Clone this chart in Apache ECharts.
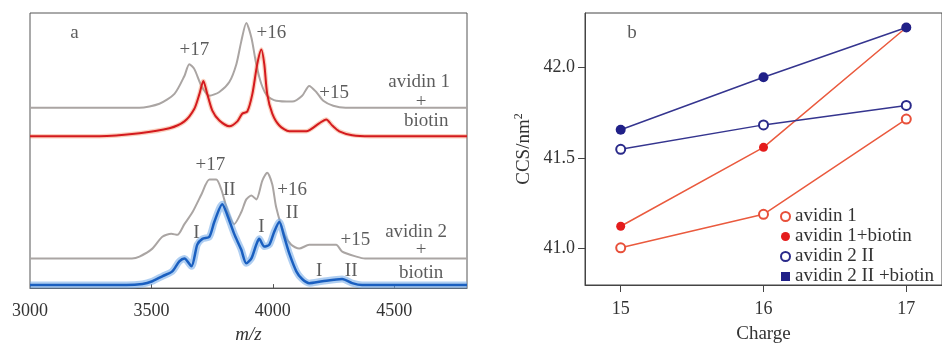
<!DOCTYPE html>
<html><head><meta charset="utf-8">
<script src="https://cdn.jsdelivr.net/npm/echarts@6/dist/echarts.min.js"></script>
<style>html,body{margin:0;padding:0;background:#fff}#c{width:942px;height:349px}</style>
</head><body><div id="c"></div>
<script>
// ---------- Panel a: mass spectra (m/z, relative intensity above own baseline) ----------
const mzTicks = [3000, 3500, 4000, 4500];
const specAvidin1 = [[3000,0],[3450,0],[3533,1.4],[3595,5.0],[3636,11.5],[3656,15.8],[3677,14.0],[3706,7.9],[3739,4.3],[3780,5.7],[3821,9.3],[3850,15.8],[3870,24.0],[3891,30.8],[3912,25.4],[3932,15.8],[3953,8.6],[3977,4.3],[4014,2.5],[4080,2.2],[4121,4.3],[4150,7.9],[4179,5.7],[4208,2.5],[4249,0.7],[4300,0],[4800,0]];
const specAvidin1Biotin = [[3000,0],[3286,0],[3451,1.1],[3574,2.9],[3636,5.4],[3677,10.0],[3698,15.4],[3714,20.1],[3730,15.4],[3751,9.3],[3780,5.7],[3821,3.6],[3854,5.4],[3874,8.2],[3895,9.0],[3916,15.4],[3936,26.2],[3953,31.5],[3965,26.2],[3977,15.4],[3998,8.2],[4027,3.9],[4068,1.8],[4138,1.8],[4191,4.7],[4220,6.1],[4245,3.9],[4274,1.8],[4327,0.4],[4400,0],[4800,0]];
const specAvidin2 = [[3000,0],[3420,0],[3451,0.7],[3504,3.6],[3545,7.9],[3582,9.0],[3607,8.6],[3636,12.5],[3669,16.8],[3706,23.3],[3739,28.7],[3767,28.7],[3788,25.1],[3813,17.6],[3841,12.5],[3870,16.8],[3891,21.5],[3912,22.9],[3932,21.5],[3957,28.3],[3977,31.2],[3998,26.9],[4014,18.6],[4047,9.0],[4076,5.0],[4109,3.6],[4150,5.0],[4220,5.0],[4261,5.0],[4286,2.5],[4344,0.7],[4380,0],[4800,0]];
const specAvidin2Biotin = [[3000,0],[3397,0],[3463,0.4],[3504,1.4],[3545,3.2],[3586,5.0],[3615,8.6],[3636,9.7],[3665,6.8],[3689,14.7],[3710,16.8],[3739,17.6],[3759,22.9],[3792,29.4],[3813,25.4],[3841,18.6],[3870,12.9],[3891,7.9],[3912,9.7],[3932,14.7],[3944,16.8],[3965,14.0],[3986,14.7],[4006,19.4],[4027,22.9],[4047,17.6],[4068,11.5],[4097,5.0],[4121,2.2],[4150,0.7],[4204,1.4],[4286,2.2],[4327,0.7],[4368,0],[4800,0]];
// annotation texts for panel a: [m/z, y, text]
const annotA = [[3183,92.8,'a'],[3677,86.4,'+17'],[3994,92.8,'+16'],[4253,71,'+15'],[4603,74.9,'avidin 1'],[4611,67.7,'+'],[4632,60.6,'biotin'],
  [3743,44.8,'+17'],[3821,35.8,'II'],[4080,35.5,'+16'],[4080,27.2,'II'],[3685,20.1,'I'],[3953,22.2,'I'],[4340,17.6,'+15'],
  [4590,20.4,'avidin 2'],[4611,14.0,'+'],[4611,5.4,'biotin'],[4191,6.1,'I'],[4323,6.1,'II']];

// ---------- Panel b: CCS vs charge ----------
const charges = [15, 16, 17];
const chargeTicks = [15, 16, 17];
const ccsTicks = [41.0, 41.5, 42.0];
const ccsAvidin1 = [41.005, 41.19, 41.715];
const ccsAvidin1Biotin = [41.124, 41.559, 42.22];
const ccsAvidin2II = [41.548, 41.683, 41.79];
const ccsAvidin2IIBiotin = [41.656, 41.946, 42.22];
const annotB = [[15.08, 42.19, 'b']];

const FONT = 'Liberation Serif';
const OFFSET = {a1: 65.6, a1b: 55.2, a2: 10.75, a2b: 1.1};
const shift = (arr, o) => arr.map(p => [p[0], p[1] + o]);
const pair = (xs, ys) => xs.map((x, i) => [x, ys[i]]);
const TICKRICH = {t: {fontFamily: FONT, fontSize: 18, color: '#333'}};

const chart = echarts.init(document.getElementById('c'), null, {renderer: 'canvas'});

function specLine(data, color, width, z) {
  return {type: 'line', xAxisIndex: 0, yAxisIndex: 0, data: data, symbol: 'none', smooth: 0.25,
    lineStyle: {color: color, width: width}, z: z, silent: true, animation: false};
}

const option = {
  animation: false,
  textStyle: {fontFamily: FONT},
  grid: [
    {left: 30, right: 475, top: 13, bottom: 57, show: true, borderColor: '#555', borderWidth: 1},
    {left: 585, right: -3, top: 13, bottom: 57, show: true, borderColor: '#444', borderWidth: 1}
  ],
  xAxis: [
    {type: 'value', gridIndex: 0, min: 3000, max: 4800, splitLine: {show: false},
      axisLine: {lineStyle: {color: '#555'}},
      axisTick: {inside: true, length: 4, customValues: mzTicks, lineStyle: {color: '#555'}},
      axisLabel: {customValues: mzTicks, margin: 14, fontFamily: FONT, fontSize: 18, color: '#333',
        formatter: v => '{t|' + v + '}', rich: TICKRICH},
      name: 'm/z', nameLocation: 'middle', nameGap: 35,
      nameTextStyle: {fontFamily: FONT, fontSize: 19, fontStyle: 'italic', color: '#333'}},
    {type: 'value', gridIndex: 1, min: 14.75, max: 17.25, splitLine: {show: false},
      axisLine: {lineStyle: {color: '#444'}},
      axisTick: {length: 7, customValues: chargeTicks, lineStyle: {color: '#444'}},
      axisLabel: {customValues: chargeTicks, margin: 15, fontFamily: FONT, fontSize: 18, color: '#333',
        formatter: v => '{t|' + v + '}', rich: TICKRICH},
      name: 'Charge', nameLocation: 'middle', nameGap: 40,
      nameTextStyle: {fontFamily: FONT, fontSize: 19, color: '#333'}}
  ],
  yAxis: [
    {type: 'value', gridIndex: 0, min: 0, max: 100, show: false},
    {type: 'value', gridIndex: 1, min: 40.8, max: 42.3, splitLine: {show: false},
      axisLine: {lineStyle: {color: '#444'}},
      axisTick: {length: 7, customValues: ccsTicks, lineStyle: {color: '#444'}},
      axisLabel: {customValues: ccsTicks, margin: 10, fontFamily: FONT, fontSize: 18, color: '#333',
        formatter: v => '{t|' + v.toFixed(1) + '}', rich: TICKRICH},
      name: '{n|CCS/nm}{s|2}', nameLocation: 'middle', nameGap: 50, nameRotate: 90,
      nameTextStyle: {fontFamily: FONT, fontSize: 19, color: '#333',
        rich: {n: {fontFamily: FONT, fontSize: 19, color: '#333'},
               s: {fontFamily: FONT, fontSize: 12, color: '#333', verticalAlign: 'top', padding: [0,0,10,0]}}}}
  ],
  legend: {
    orient: 'vertical', left: 780, top: 207, padding: 0, itemGap: 1, itemWidth: 9, itemHeight: 9,
    textStyle: {fontFamily: FONT, fontSize: 19, color: '#333'},
    data: [
      {name: 'avidin 1', icon: 'emptyCircle'},
      {name: 'avidin 1+biotin', icon: 'circle'},
      {name: 'avidin 2 II', icon: 'emptyCircle'},
      {name: 'avidin 2 II +biotin', icon: 'rect'}
    ]
  },
  series: [
    specLine(shift(specAvidin1, OFFSET.a1), '#aaa5a3', 2, 2),
    specLine(shift(specAvidin1Biotin, OFFSET.a1b), 'rgba(240,120,70,0.35)', 4.5, 2),
    specLine(shift(specAvidin1Biotin, OFFSET.a1b), '#d41a1e', 2, 3),
    specLine(shift(specAvidin2, OFFSET.a2), '#aaa5a3', 2, 2),
    specLine(shift(specAvidin2Biotin, OFFSET.a2b), 'rgba(110,165,230,0.55)', 7, 2),
    specLine(shift(specAvidin2Biotin, OFFSET.a2b), '#1a5fc0', 2.5, 3),
    {type: 'scatter', xAxisIndex: 0, yAxisIndex: 0, symbolSize: 1, itemStyle: {color: 'rgba(0,0,0,0)'},
      data: annotA, silent: true, z: 5,
      label: {show: true, position: 'inside', formatter: p => p.value[2], fontFamily: FONT, fontSize: 19, color: '#333'}},
    {type: 'scatter', xAxisIndex: 1, yAxisIndex: 1, symbolSize: 1, itemStyle: {color: 'rgba(0,0,0,0)'},
      data: annotB, silent: true, z: 5,
      label: {show: true, position: 'inside', formatter: p => p.value[2], fontFamily: FONT, fontSize: 19, color: '#333'}},
    {name: 'avidin 1', type: 'line', xAxisIndex: 1, yAxisIndex: 1, data: pair(charges, ccsAvidin1),
      symbol: 'emptyCircle', symbolSize: 9, lineStyle: {color: '#ea5a3e', width: 1.5},
      itemStyle: {color: '#e8503a', borderWidth: 1.5}, z: 3},
    {name: 'avidin 1+biotin', type: 'line', xAxisIndex: 1, yAxisIndex: 1, data: pair(charges, ccsAvidin1Biotin),
      symbol: 'circle', symbolSize: 9, lineStyle: {color: '#ea5a3e', width: 1.5},
      itemStyle: {color: '#e41c1c'}, z: 3},
    {name: 'avidin 2 II', type: 'line', xAxisIndex: 1, yAxisIndex: 1, data: pair(charges, ccsAvidin2II),
      symbol: 'emptyCircle', symbolSize: 9, lineStyle: {color: '#35358f', width: 1.5},
      itemStyle: {color: '#2a2a8a', borderWidth: 1.5}, z: 4},
    {name: 'avidin 2 II +biotin', type: 'line', xAxisIndex: 1, yAxisIndex: 1, data: pair(charges, ccsAvidin2IIBiotin),
      symbol: 'circle', symbolSize: 10, lineStyle: {color: '#35358f', width: 1.5},
      itemStyle: {color: '#202088'}, z: 4}
  ]
};
chart.setOption(option);
</script></body></html>
